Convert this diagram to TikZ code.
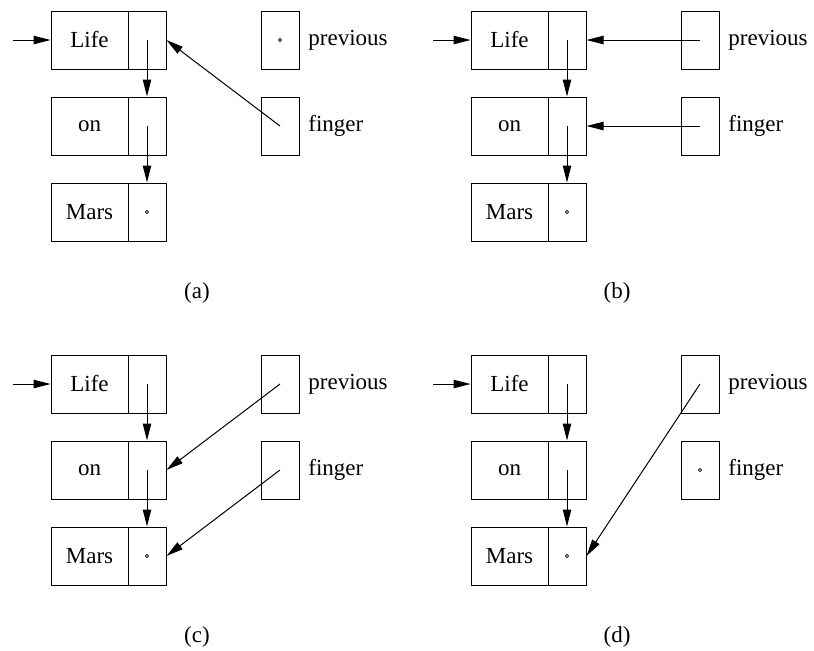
\documentclass[tikz,border=0pt]{standalone}
\usepackage{fontspec}
\setmainfont{Liberation Serif}
\usetikzlibrary{arrows.meta}

\begin{document}
\begin{tikzpicture}[x=0.5pt,y=-0.5pt,
    font=\fontsize{11.5}{13}\selectfont,
    datacell/.style={draw,line width=0.5pt,minimum width=38.5pt,minimum height=29pt,inner sep=0pt},
    linkcell/.style={draw,line width=0.5pt,minimum width=19pt,minimum height=29pt,inner sep=0pt},
    link/.style={-{Triangle[length=8.5pt,width=4.2pt]},line width=0.5pt},
    nil/.style={line width=0.4pt}]
  \useasboundingbox (0,0) rectangle (814,650);
  \foreach \p/\dx/\dy in {a/0/0,b/420/0,c/0/344,d/420/344} {
    \begin{scope}[shift={(\dx,\dy)}]
      % the list
      \node[datacell] (\p-life) at (89.5,40) {Life};
      \node[linkcell] (\p-lifenext) at (147,40) {};
      \node[datacell] (\p-on) at (89.5,126) {on};
      \node[linkcell] (\p-onnext) at (147,126) {};
      \node[datacell] (\p-mars) at (89.5,212) {Mars};
      \node[linkcell] (\p-marsnext) at (147,212) {};
      \coordinate (\p-in) at (13,40);
      \draw[link] (\p-in) -- (\p-life);
      \draw[link] (\p-lifenext.center) -- (\p-onnext.north);
      \draw[link] (\p-onnext.center) -- (\p-marsnext.north);
      \draw[nil] (\p-marsnext.center) circle[radius=0.8pt];
      % the two pointers
      \node[linkcell] (\p-prev) at (280,40) {};
      \node[linkcell] (\p-finger) at (280,126) {};
      \node[anchor=west,inner sep=0pt] (\p-prevtext) at (308,40) {previous};
      \node[anchor=west,inner sep=0pt] (\p-fingertext) at (308,126) {finger};
      \node (\p-cap) at (197,293) {(\p)};
    \end{scope}
  }
  % (a)
  \draw[nil] (a-prev.center) circle[radius=0.8pt];
  \draw[link] (a-finger.center) -- (a-lifenext.east);
  % (b)
  \draw[link] (b-prev.center) -- (b-lifenext.east);
  \draw[link] (b-finger.center) -- (b-onnext.east);
  % (c)
  \draw[link] (c-prev.center) -- (c-onnext.east);
  \draw[link] (c-finger.center) -- (c-marsnext.east);
  % (d)
  \draw[link] (d-prev.center) -- (d-marsnext.east);
  \draw[nil] (d-finger.center) circle[radius=0.8pt];
\end{tikzpicture}
\end{document}
